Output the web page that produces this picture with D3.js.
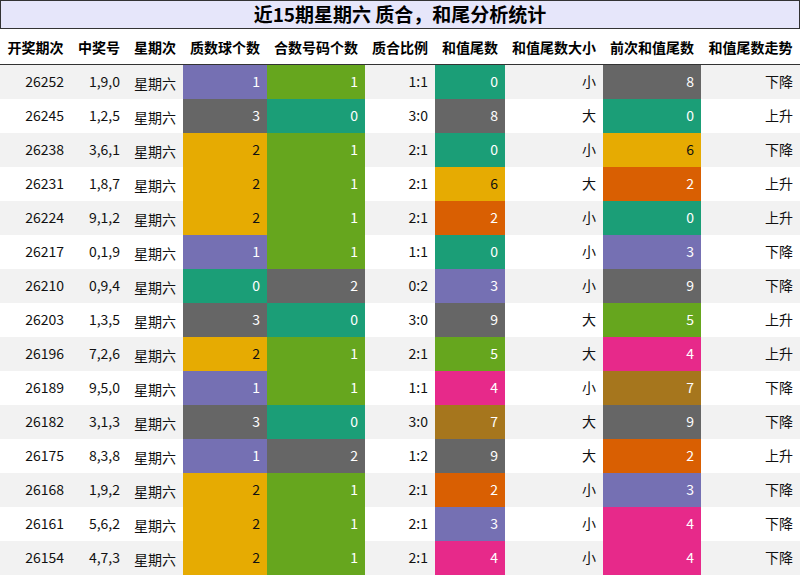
<!DOCTYPE html><html><head><meta charset="utf-8"><script src="https://cdn.jsdelivr.net/npm/d3@7"></script>
<style>body{margin:0;background:#fff;font-family:"Noto Sans CJK SC",sans-serif}</style></head><body><svg id="c" width="800" height="576"></svg>
<script>
const title="近15期星期六 质合，和尾分析统计";
const headers=["开奖期次","中奖号","星期次","质数球个数","合数号码个数","质合比例","和值尾数","和值尾数大小","前次和值尾数","和值尾数走势"];
const periods=["26252","26245","26238","26231","26224","26217","26210","26203","26196","26189","26182","26175","26168","26161","26154"];
const numbers=["1,9,0","1,2,5","3,6,1","1,8,7","9,1,2","0,1,9","0,9,4","1,3,5","7,2,6","9,5,0","3,1,3","8,3,8","1,9,2","5,6,2","4,7,3"];
const primeCount=[1,3,2,2,2,1,0,3,2,1,3,1,2,2,2];
const compCount=[1,0,1,1,1,1,2,0,1,1,0,2,1,1,1];
const ratio=["1:1","3:0","2:1","2:1","2:1","1:1","0:2","3:0","2:1","1:1","3:0","1:2","2:1","2:1","2:1"];
const tail=[0,8,0,6,2,0,3,9,5,4,7,9,2,3,4];
const size=["小","大","小","大","小","小","小","大","大","小","大","大","小","小","小"];
const prevTail=[8,0,6,2,0,3,9,5,4,7,9,2,3,4,4];
const trend=["下降","上升","下降","上升","上升","下降","下降","上升","上升","下降","下降","上升","下降","下降","下降"];
const C={teal:"#1b9e77",orange:"#d95f02",purple:"#7570b3",pink:"#e7298a",green:"#66a61e",gold:"#e6ab02",brown:"#a6761d",gray:"#666666"};
const digitCol={0:C.teal,2:C.orange,3:C.purple,4:C.pink,5:C.green,6:C.gold,7:C.brown,8:C.gray,9:C.gray,1:C.purple};
const primeCol={0:C.teal,1:C.purple,2:C.gold,3:C.gray};
const compCol={0:C.teal,1:C.green,2:C.gray};
const edges=[0,71,127,183,267,365,435,505,603,701,800];
const svg=d3.select("#c");
const x=d3.scaleOrdinal().domain(d3.range(10)).range(edges.slice(0,10));
const w=i=>edges[i+1]-edges[i];
const y=d3.scaleBand().domain(d3.range(15)).range([65,575]).padding(0);
svg.append("rect").attr("x",0.5).attr("y",0.5).attr("width",799).attr("height",28).attr("fill","#e6e6fa").attr("stroke","#333");
svg.append("text").attr("x",400).attr("y",22).attr("text-anchor","middle").attr("font-size",19).attr("font-weight","bold").text(title);
headers.forEach((h,i)=>svg.append("text").attr("x",x(i)+w(i)/2).attr("y",53).attr("text-anchor","middle").attr("font-size",14).attr("font-weight","bold").text(h));
svg.append("line").attr("x1",0).attr("x2",800).attr("y1",64.5).attr("y2",64.5).attr("stroke","#333");
const cols=[periods,numbers,periods.map(()=>"星期六"),primeCount,compCount,ratio,tail,size,prevTail,trend];
const fills=[null,null,null,v=>primeCol[v],v=>compCol[v],null,v=>digitCol[v],null,v=>digitCol[v],null];
d3.range(15).forEach(r=>{
 const g=svg.append("g");
 g.append("rect").attr("x",0).attr("y",y(r)).attr("width",800).attr("height",y.bandwidth()).attr("fill",r%2==0?"#f2f2f2":"#fff");
 cols.forEach((col,i)=>{
  const v=col[r];let tc="#111";
  if(fills[i]){const f=fills[i](v);g.append("rect").attr("x",x(i)).attr("y",y(r)).attr("width",w(i)).attr("height",y.bandwidth()).attr("fill",f);tc=f==C.gold?"#111":"#fff";}
  const isDay=i==2;
  g.append("text").attr("x",isDay?x(i)+w(i)/2:x(i)+w(i)-7).attr("y",y(r)+(isDay?24:22)).attr("text-anchor",isDay?"middle":"end").attr("font-size",14).attr("fill",tc).text(v);
 });
});
</script></body></html>
